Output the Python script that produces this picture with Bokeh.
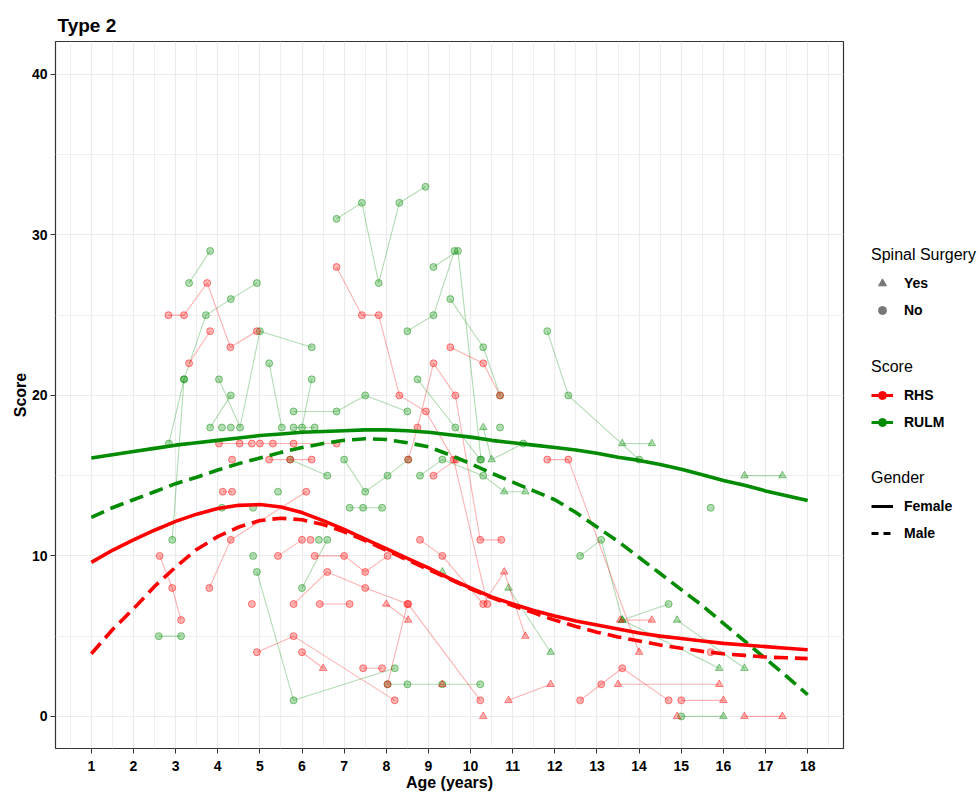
from bokeh.plotting import figure
from bokeh.layouts import row
from bokeh.models import Range1d, FixedTicker, Legend, LegendItem
from bokeh.embed import file_html
from bokeh.resources import INLINE

# ---------------- data ----------------
age_ticks = list(range(1, 19))
score_ticks = [0, 10, 20, 30, 40]

# individual trajectories, RHS (red)
rhs_ages = [
    [2.83, 3.2, 3.75, 4.3, 4.93], [3.32, 3.82], [2.62, 2.92, 3.13], [3.8, 4.31, 6.1],
    [4.12, 4.34], [4.03, 4.52, 4.81], [5.0, 5.31, 5.8, 6.82], [5.22, 5.72, 6.23],
    [4.34], [5.43, 6.0], [6.2], [6.3, 7.0, 7.5, 8.03], [5.8, 6.6, 7.5, 8.52, 10.23],
    [6.42, 7.13], [4.81], [4.93, 5.8, 8.2], [6.0, 6.5], [7.45, 7.9], [8.0, 8.52],
    [8.03, 8.5], [6.82, 7.42, 7.82, 8.31, 8.94, 9.6, 10.4],
    [8.52, 8.74, 9.12, 9.64, 10.23, 10.73], [9.52, 10.3, 10.7],
    [8.8, 9.33, 10.3, 10.8, 11.3], [9.12, 9.66], [11.82, 12.32, 14.0], [10.9, 11.9],
    [10.3], [12.6, 13.1, 13.6, 14.7], [13.5, 15.9], [15.0, 16.0], [14.9], [16.5, 17.4],
    [13.55, 14.3], [15.7], [9.33],
]
rhs_scores = [
    [25, 25, 27, 23, 24], [22, 24], [10, 8, 6], [8, 11, 14],
    [14, 14], [17, 17, 17], [17, 17, 17, 17], [16, 16, 16],
    [16], [10, 11], [11], [10, 10, 9, 10], [7, 9, 8, 7, 1],
    [7, 7], [7], [4, 5, 1], [4, 3], [3, 3], [7, 6],
    [2, 7], [28, 25, 25, 20, 19, 16, 7],
    [16, 18, 22, 20, 11, 11], [23, 22, 20],
    [11, 10, 7, 9, 5], [15, 16], [16, 16, 4], [1, 2],
    [0], [1, 2, 3, 1], [2, 2], [1, 1], [0], [0, 0],
    [6, 6], [4], [2],
]
rhs_surgery = [
    "NNNNN", "NN", "NNN", "NNN", "NN", "NNN", "NNNN", "NNN", "N", "NN", "N", "NNNN",
    "NNNNN", "NN", "N", "NNN", "NY", "NN", "YY", "NN", "NNNNNNN", "NNNNNN", "NNN",
    "NNNYY", "NN", "NNY", "YY", "Y", "NNNN", "YY", "NY", "Y", "YY", "YY", "N", "Y",
]

# individual trajectories, RULM (green)
rulm_ages = [
    [3.32, 3.82], [2.84, 3.2, 3.72, 4.31, 4.93], [4.03, 4.53, 5.0, 6.23], [3.82, 4.31],
    [5.22, 5.52], [6.0, 6.23], [5.8, 6.82, 7.5, 8.5], [5.8, 6.3],
    [6.82, 7.42, 7.82, 8.31, 8.93], [8.5, 9.12, 9.62], [9.12, 9.7, 10.25],
    [9.52, 10.3, 10.7], [11.82, 12.32, 14.0], [13.6, 14.3], [16.5, 17.4], [15.7],
    [8.74, 9.64, 10.23], [10.3, 10.5, 11.25], [10.7], [7.0, 7.5, 8.03, 8.52],
    [8.8, 9.33, 10.3, 10.8, 11.3], [7.13, 7.45, 7.9], [2.6, 3.13], [2.92, 3.2],
    [4.93, 5.8, 8.2], [4.84], [4.1], [4.84], [5.43], [6.0, 6.6], [6.4], [5.72, 6.6],
    [8.03, 8.5, 9.33, 10.23], [10.9, 11.9], [12.6, 13.1, 13.6, 14.7], [13.6, 15.9],
    [14.9, 16.5], [15.0, 16.0], [9.33], [4.1], [4.31],
]
rulm_scores = [
    [27, 29], [17, 21, 25, 26, 27], [21, 18, 24, 23], [18, 20],
    [22, 18], [18, 21], [19, 19, 20, 19], [18, 18],
    [31, 32, 27, 32, 33], [24, 25, 29], [28, 29, 16],
    [26, 23, 20], [24, 20, 16], [17, 17], [15, 15], [13],
    [21, 18, 16], [18, 16, 17], [18], [16, 14, 15, 16],
    [15, 16, 15, 14, 14], [13, 13, 13], [5, 5], [11, 21],
    [9, 1, 3], [10], [13], [13], [14], [8, 11], [11], [16, 15],
    [2, 2, 2, 2], [8, 4], [10, 11, 6, 7], [6, 3],
    [6, 3], [0, 0], [9], [18], [18],
]
rulm_surgery = [
    "NN", "NNNNN", "NNNN", "NN", "NN", "NN", "NNNN", "NN", "NNNNN", "NNN", "NNN",
    "NNN", "NNN", "YY", "YY", "N", "NNN", "YYN", "N", "NNNN", "NNNYY", "NNN", "NN",
    "NN", "NNN", "N", "N", "N", "N", "NN", "N", "NN", "NNNN", "YY", "NNYN", "YY",
    "YY", "NY", "Y", "N", "N",
]

# smoothed curves
curve_age = [1, 1.5, 2, 2.5, 3, 3.5, 4, 4.5, 5, 5.5, 6, 6.5, 7, 7.5, 8, 8.5, 9, 9.5,
             10, 10.5, 11, 11.5, 12, 12.5, 13, 13.5, 14, 14.5, 15, 15.5, 16, 16.5, 17, 17.5, 18]
rulm_female = [16.1, 16.3, 16.5, 16.7, 16.9, 17.05, 17.2, 17.35, 17.5, 17.6, 17.7, 17.75,
               17.8, 17.85, 17.85, 17.8, 17.7, 17.55, 17.4, 17.2, 17.05, 16.9, 16.75, 16.6,
               16.4, 16.15, 15.95, 15.7, 15.4, 15.05, 14.7, 14.4, 14.05, 13.75, 13.45]
rulm_male = [12.4, 13.0, 13.5, 14.0, 14.5, 14.9, 15.35, 15.75, 16.1, 16.45, 16.75, 17.0,
             17.2, 17.3, 17.25, 17.05, 16.8, 16.3, 15.75, 15.15, 14.6, 14.05, 13.5, 12.7,
             11.8, 10.9, 9.9, 8.9, 7.9, 6.9, 5.8, 4.7, 3.6, 2.5, 1.35]
rhs_female = [9.6, 10.35, 11.0, 11.6, 12.15, 12.6, 12.95, 13.15, 13.2, 13.05, 12.7, 12.2,
              11.65, 11.05, 10.45, 9.85, 9.25, 8.6, 8.0, 7.45, 7.0, 6.6, 6.25, 5.95,
              5.7, 5.45, 5.2, 5.0, 4.85, 4.7, 4.55, 4.45, 4.35, 4.25, 4.15]
rhs_male = [3.9, 5.4, 6.7, 8.1, 9.3, 10.4, 11.2, 11.8, 12.2, 12.35, 12.25, 11.95,
            11.5, 10.95, 10.35, 9.75, 9.15, 8.55, 7.95, 7.4, 6.9, 6.45, 6.0, 5.6,
            5.25, 4.95, 4.7, 4.45, 4.25, 4.05, 3.9, 3.8, 3.7, 3.65, 3.6]

RED = "#FF0000"
GREEN = "#008B00"
FONT = "Liberation Sans"

p = figure(frame_width=788, frame_height=707,
           min_border_left=55, min_border_right=2, min_border_top=41, min_border_bottom=44,
           x_range=Range1d(0.15, 18.85), y_range=Range1d(-2.0, 42.05),
           output_backend="svg", toolbar_location=None, title="Type 2")

p.title.text_font = FONT
p.title.text_font_size = "19px"
p.title.text_font_style = "bold"
p.title.text_color = "black"
p.title.align = "left"
p.title.offset = 2
p.title.standoff = 12

p.background_fill_color = "white"
p.border_fill_color = "white"
p.outline_line_color = "#333333"
p.outline_line_width = 1.2

p.xaxis.ticker = FixedTicker(ticks=age_ticks, minor_ticks=[a - 0.5 for a in age_ticks] + [18.5])
p.yaxis.ticker = FixedTicker(ticks=score_ticks, minor_ticks=[5, 15, 25, 35])
for ax in (p.xaxis, p.yaxis):
    ax.axis_line_color = None
    ax.major_tick_line_color = "#333333"
    ax.major_tick_out = 5
    ax.major_tick_in = 0
    ax.minor_tick_line_color = None
    ax.major_label_text_font = FONT
    ax.major_label_text_font_size = "14px"
    ax.major_label_text_font_style = "bold"
    ax.major_label_text_color = "black"
    ax.axis_label_text_font = FONT
    ax.axis_label_text_font_size = "16px"
    ax.axis_label_text_font_style = "bold"
    ax.axis_label_text_color = "black"
    ax.major_label_standoff = 3
p.xaxis.major_label_standoff = 7
p.xaxis.axis_label = "Age (years)"
p.yaxis.axis_label = "Score"
p.xaxis.axis_label_standoff = 0
p.yaxis.axis_label_standoff = 0

for g in (p.xgrid, p.ygrid):
    g.grid_line_color = "#EBEBEB"
    g.grid_line_width = 1.2
    g.minor_grid_line_color = "#EFEFEF"
    g.minor_grid_line_width = 1.0


def draw_traj(ages, scores, surg, color):
    p.multi_line(xs=ages, ys=scores, line_color=color, line_alpha=0.3, line_width=1.1)
    cx, cy, tx, ty = [], [], [], []
    for a_list, s_list, flags in zip(ages, scores, surg):
        for a, s, f in zip(a_list, s_list, flags):
            if f == "Y":
                tx.append(a); ty.append(s)
            else:
                cx.append(a); cy.append(s)
    p.scatter(cx, cy, marker="circle", size=7, fill_color=color, fill_alpha=0.3,
              line_color=color, line_alpha=0.45, line_width=1)
    p.scatter(tx, ty, marker="triangle", size=7.5, fill_color=color, fill_alpha=0.3,
              line_color=color, line_alpha=0.45, line_width=1)


draw_traj(rulm_ages, rulm_scores, rulm_surgery, GREEN)
draw_traj(rhs_ages, rhs_scores, rhs_surgery, RED)

p.line(curve_age, rulm_female, line_color=GREEN, line_width=3.6)
p.line(curve_age, rulm_male, line_color=GREEN, line_width=3.6, line_dash="14 7")
p.line(curve_age, rhs_female, line_color=RED, line_width=3.6)
p.line(curve_age, rhs_male, line_color=RED, line_width=3.6, line_dash="14 7")

# ---- legend panel (separate, axis-less figure to the right) ----
lf = figure(width=135, height=792, min_border=0, output_backend="svg",
            toolbar_location=None, x_range=Range1d(0, 1), y_range=Range1d(0, 1))
lf.axis.visible = False
lf.grid.visible = False
lf.outline_line_color = None
lf.background_fill_color = "white"
lf.border_fill_color = "white"

# legend key renderers: one point kept outside the visible range
off_x = [-5, -4]
off_y = [-5, -4]
r_yes = lf.scatter(off_x[:1], off_y[:1], marker="triangle", size=6, color="#777777")
r_no = lf.scatter(off_x[:1], off_y[:1], marker="circle", size=5, color="#777777")
r_rhs_l = lf.line(off_x, off_y, line_color=RED, line_width=3)
r_rhs_p = lf.scatter(off_x[:1], off_y[:1], marker="circle", size=5, color=RED)
r_rulm_l = lf.line(off_x, off_y, line_color=GREEN, line_width=3)
r_rulm_p = lf.scatter(off_x[:1], off_y[:1], marker="circle", size=5, color=GREEN)
r_fem = lf.line(off_x, off_y, line_color="black", line_width=3)
r_male = lf.line(off_x, off_y, line_color="black", line_width=3, line_dash="7 5")


def make_legend(title, items, loc):
    lg = Legend(items=items, title=title, location=loc, orientation="vertical",
                border_line_color=None, background_fill_alpha=0, padding=0, margin=0,
                spacing=7, glyph_width=22, glyph_height=20, label_height=20,
                label_standoff=11, title_standoff=9)
    lg.title_text_font = FONT
    lg.title_text_font_size = "16px"
    lg.title_text_font_style = "normal"
    lg.title_text_color = "black"
    lg.label_text_font = FONT
    lg.label_text_font_size = "14px"
    lg.label_text_font_style = "bold"
    lg.label_text_color = "black"
    lf.add_layout(lg)


make_legend("Spinal Surgery", [LegendItem(label="Yes", renderers=[r_yes]),
                               LegendItem(label="No", renderers=[r_no])], (26, 427))
make_legend("Score", [LegendItem(label="RHS", renderers=[r_rhs_l, r_rhs_p]),
                      LegendItem(label="RULM", renderers=[r_rulm_l, r_rulm_p])], (26, 315))
make_legend("Gender", [LegendItem(label="Female", renderers=[r_fem]),
                       LegendItem(label="Male", renderers=[r_male])], (26, 204))

layout = row(p, lf, spacing=0)
open("out.html", "w").write(file_html(layout, INLINE))
